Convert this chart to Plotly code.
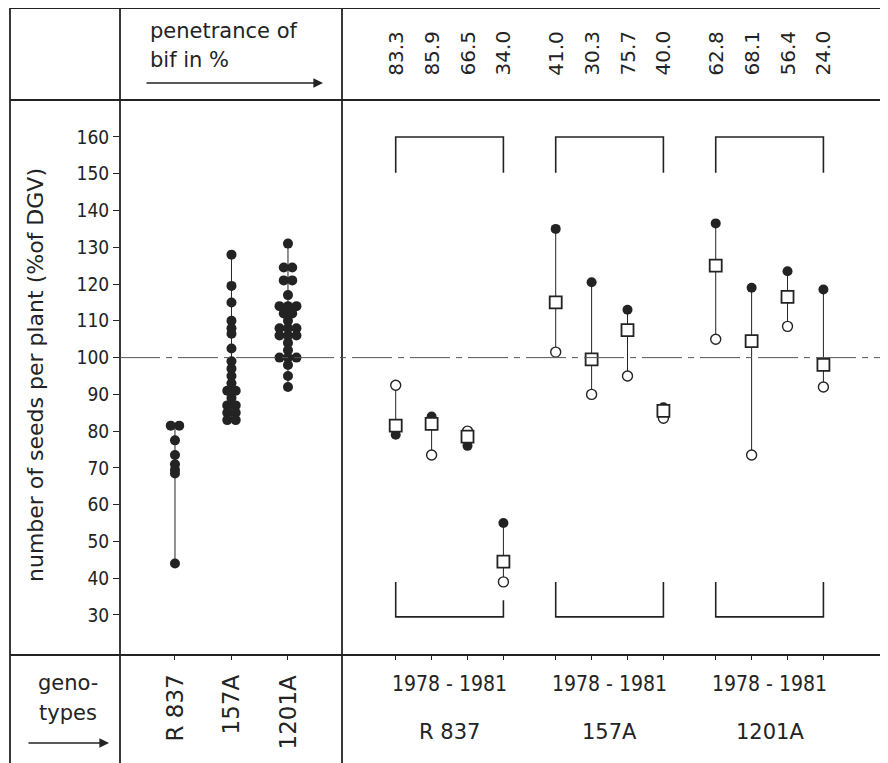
import plotly.graph_objects as go

# ---------------- data ----------------
genotypes = ["R 837", "157A", "1201A"]
years_label = "1978 - 1981"

# single plants (left panel), % of DGV
plants_R837 = [81.5, 81.5, 77.5, 73.5, 71, 69.5, 68.5, 44]
plants_157A = [128, 119.5, 115, 110, 108, 106.5, 102.5, 99, 97, 95, 93,
               91, 91, 89, 87, 87, 85, 85, 83, 83]
plants_1201A = [131, 124.5, 124.5, 121, 121, 117, 114, 114, 114, 112, 112,
                110, 108, 108, 108, 106, 106, 106, 104, 102, 100, 100, 100,
                98, 95, 92]

# penetrance of bif in % (1978..1981)
pen_R837 = ["83.3", "85.9", "66.5", "34.0"]
pen_157A = ["41.0", "30.3", "75.7", "40.0"]
pen_1201A = ["62.8", "68.1", "56.4", "24.0"]

# yearly values (right panel)
filled_R837 = [79, 84, 76, 55]
open_R837 = [92.5, 73.5, 80, 39]
mean_R837 = [81.5, 82, 78.5, 44.5]

filled_157A = [135, 120.5, 113, 86.5]
open_157A = [101.5, 90, 95, 83.5]
mean_157A = [115, 99.5, 107.5, 85.5]

filled_1201A = [136.5, 119, 123.5, 118.5]
open_1201A = [105, 73.5, 108.5, 92]
mean_1201A = [125, 104.5, 116.5, 98]

y_ticks = list(range(30, 161, 10))

# ---------------- layout helpers ----------------
OFF = 8                      # page body margin of the browser
W, H = 888 - OFF, 763 - OFF
INK = "#232323"
FONT = "DejaVu Sans, sans-serif"
FONT_C = "DejaVu Sans Condensed, DejaVu Sans, sans-serif"


def px(x):
    return (x - OFF) / W


def py(y):
    return 1 - (y - OFF) / H


fig = go.Figure()

# left panel: single plants
plant_sets = [plants_R837, plants_157A, plants_1201A]
for gi, vals in enumerate(plant_sets):
    counts = {}
    for v in vals:
        counts[v] = counts.get(v, 0) + 1
    seen = {}
    xs = []
    for v in vals:
        k = seen.get(v, 0)
        seen[v] = k + 1
        n = counts[v]
        xs.append(gi + (k - (n - 1) / 2) * 0.15)
    fig.add_trace(go.Scatter(x=[gi, gi], y=[min(vals), max(vals)], mode="lines",
                             line=dict(color=INK, width=1), xaxis="x", yaxis="y",
                             hoverinfo="skip", showlegend=False))
    fig.add_trace(go.Scatter(x=xs, y=vals, mode="markers",
                             marker=dict(color=INK, size=10, line=dict(width=0)),
                             xaxis="x", yaxis="y", showlegend=False))

# right panel: yearly values
GROUP_GAP = 4.457
groups = [
    (filled_R837, open_R837, mean_R837, pen_R837),
    (filled_157A, open_157A, mean_157A, pen_157A),
    (filled_1201A, open_1201A, mean_1201A, pen_1201A),
]
lx, ly = [], []
fx, fy, ox, oy, mx, my = [], [], [], [], [], []
for g, (fv, ov, mv, pv) in enumerate(groups):
    for j in range(4):
        x = j + g * GROUP_GAP
        lo = min(fv[j], ov[j], mv[j])
        hi = max(fv[j], ov[j], mv[j])
        lx += [x, x, None]
        ly += [lo, hi, None]
        fx.append(x); fy.append(fv[j])
        ox.append(x); oy.append(ov[j])
        mx.append(x); my.append(mv[j])

fig.add_trace(go.Scatter(x=lx, y=ly, mode="lines", line=dict(color=INK, width=1),
                         xaxis="x2", yaxis="y", hoverinfo="skip", showlegend=False))
fig.add_trace(go.Scatter(x=fx, y=fy, mode="markers",
                         marker=dict(color=INK, size=10, line=dict(width=0)),
                         xaxis="x2", yaxis="y", showlegend=False))
fig.add_trace(go.Scatter(x=ox, y=oy, mode="markers",
                         marker=dict(color="white", size=10, symbol="circle",
                                     line=dict(color=INK, width=1.4)),
                         xaxis="x2", yaxis="y", showlegend=False))
fig.add_trace(go.Scatter(x=mx, y=my, mode="markers",
                         marker=dict(color="white", size=12, symbol="square",
                                     line=dict(color=INK, width=1.8)),
                         xaxis="x2", yaxis="y", showlegend=False))

shapes = []
# table borders
for x0, y0, x1, y1 in [(10, 8, 888, 8), (10, 100, 888, 100), (10, 655, 888, 655),
                       (10, 8, 10, 763), (120, 8, 120, 763), (342, 8, 342, 763)]:
    shapes.append(dict(type="line", xref="paper", yref="paper",
                       x0=px(x0), y0=py(y0), x1=px(x1), y1=py(y1),
                       line=dict(color=INK, width=1.8)))
# 100 % reference line
shapes.append(dict(type="line", xref="paper", yref="y", x0=px(120), x1=1,
                   y0=100, y1=100, line=dict(color="#555", width=1,
                                             dash="40px,6px,6px,6px")))
# brackets
for g in range(3):
    a = g * GROUP_GAP
    b = 3 + g * GROUP_GAP
    shapes.append(dict(type="path", xref="x2", yref="y",
                       path=f"M {a},150.3 L {a},160 L {b},160 L {b},150.3",
                       line=dict(color=INK, width=1.6)))
    top_right = 34 if g == 0 else 39
    shapes.append(dict(type="path", xref="x2", yref="y",
                       path=f"M {a},39 L {a},29.5 L {b},29.5 L {b},{top_right}",
                       line=dict(color=INK, width=1.6)))

annotations = []
annotations.append(dict(text="number of seeds per plant (%of DGV)", textangle=-90,
                        xref="paper", yref="paper", x=px(35), y=py(375),
                        xanchor="center", yanchor="middle", showarrow=False,
                        font=dict(size=22, color=INK, family=FONT)))
annotations.append(dict(text="penetrance of", xref="paper", yref="paper",
                        x=px(148), y=py(31), xanchor="left", yanchor="middle",
                        showarrow=False, font=dict(size=21, color=INK, family=FONT)))
annotations.append(dict(text="bif in %", xref="paper", yref="paper",
                        x=px(148), y=py(60), xanchor="left", yanchor="middle",
                        showarrow=False, font=dict(size=21, color=INK, family=FONT)))
annotations.append(dict(text="", xref="paper", yref="paper", x=px(323), y=py(83),
                        ax=-178, ay=0, showarrow=True, arrowhead=2, arrowsize=1.2,
                        arrowwidth=1.6, arrowcolor=INK))
annotations.append(dict(text="geno-", xref="paper", yref="paper", x=px(68), y=py(683),
                        xanchor="center", yanchor="middle", showarrow=False,
                        font=dict(size=21, color=INK, family=FONT)))
annotations.append(dict(text="types", xref="paper", yref="paper", x=px(68), y=py(713),
                        xanchor="center", yanchor="middle", showarrow=False,
                        font=dict(size=21, color=INK, family=FONT)))
annotations.append(dict(text="", xref="paper", yref="paper", x=px(109), y=py(743),
                        ax=-82, ay=0, showarrow=True, arrowhead=2, arrowsize=1.2,
                        arrowwidth=1.6, arrowcolor=INK))
for gi, name in enumerate(genotypes):
    annotations.append(dict(text=name, textangle=-90, xref="x", yref="paper",
                            x=gi, y=py(672), xanchor="center", yanchor="top",
                            showarrow=False, font=dict(size=23, color=INK, family=FONT)))
for g, (fv, ov, mv, pv) in enumerate(groups):
    for j in range(4):
        annotations.append(dict(text=pv[j], textangle=-90, xref="x2", yref="paper",
                                x=j + g * GROUP_GAP, y=py(53), xanchor="center",
                                yanchor="middle", showarrow=False,
                                font=dict(size=20, color=INK, family=FONT)))
    annotations.append(dict(text=years_label, xref="x2", yref="paper",
                            x=1.5 + g * GROUP_GAP, y=py(684), xanchor="center",
                            yanchor="middle", showarrow=False,
                            font=dict(size=21, color=INK, family=FONT_C)))
    annotations.append(dict(text=genotypes[g], xref="x2", yref="paper",
                            x=1.5 + g * GROUP_GAP, y=py(732), xanchor="center",
                            yanchor="middle", showarrow=False,
                            font=dict(size=21, color=INK, family=FONT)))

x2_ticks = [j + g * GROUP_GAP for g in range(3) for j in range(4)]

fig.update_layout(
    width=W, height=H, margin=dict(l=0, r=0, t=0, b=0),
    paper_bgcolor="white", plot_bgcolor="rgba(0,0,0,0)",
    showlegend=False,
    font=dict(family=FONT, color=INK),
    xaxis=dict(domain=[px(120), px(342)], range=[-0.973, 2.956], anchor="y",
               showgrid=False, zeroline=False, showline=False,
               tickvals=[0, 1, 2], ticks="outside", ticklen=4, tickcolor=INK,
               showticklabels=False),
    xaxis2=dict(domain=[px(342), 1], range=[-1.496, 13.713], anchor="y",
                showgrid=False, zeroline=False, showline=False,
                tickvals=x2_ticks, ticks="outside", ticklen=4, tickcolor=INK,
                showticklabels=False),
    yaxis=dict(domain=[py(655), py(100)], range=[19.12, 170.06], anchor="x",
               showgrid=False, zeroline=False, showline=False,
               tickvals=y_ticks, ticks="outside", ticklen=6, tickcolor=INK,
               tickwidth=1.3, tickfont=dict(size=19, color=INK, family=FONT_C)),
    shapes=shapes, annotations=annotations,
)

fig.write_html("out.html")
